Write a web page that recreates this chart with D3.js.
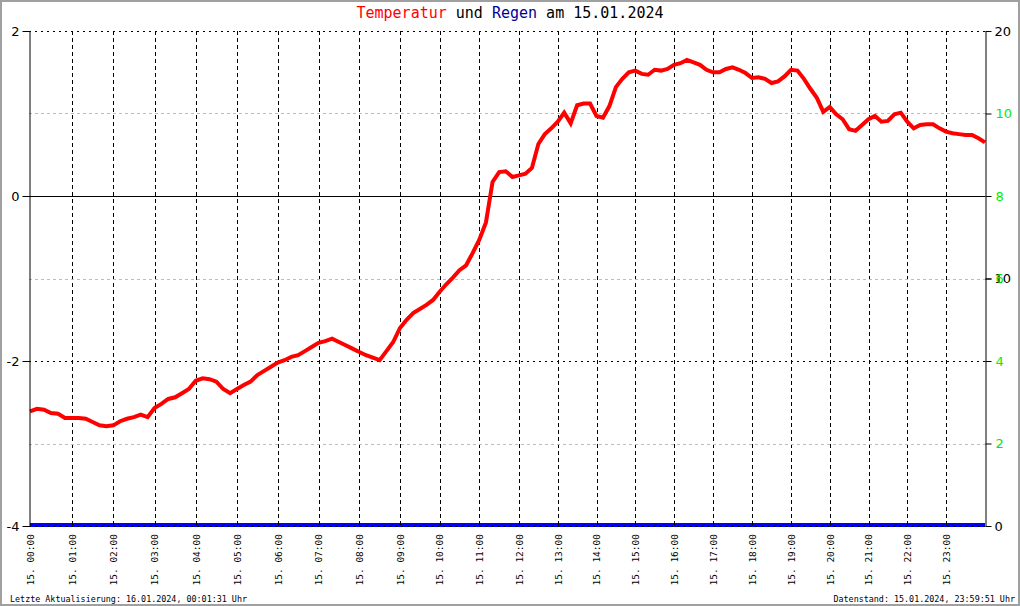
<!DOCTYPE html>
<html>
<head>
<meta charset="utf-8">
<script src="https://cdn.jsdelivr.net/npm/d3@7"></script>
<style>
  body { margin: 0; background: #fff; }
  .mono { font-family: "DejaVu Sans Mono", monospace; }
</style>
</head>
<body>
<div id="chart"></div>
<script>
// Temperatur in 10-Minuten-Schritten ab 00:00 (letzter Wert = 23:59:51)
var temps = [
  -2.61, -2.58, -2.59, -2.63, -2.64, -2.69,
  -2.69, -2.69, -2.70, -2.74, -2.78, -2.79,
  -2.78, -2.73, -2.70, -2.68, -2.65, -2.68,
  -2.57, -2.52, -2.46, -2.44, -2.39, -2.34,
  -2.24, -2.21, -2.22, -2.25, -2.34, -2.39,
  -2.34, -2.29, -2.25, -2.17, -2.12, -2.07,
  -2.02, -1.99, -1.95, -1.93, -1.88, -1.83,
  -1.78, -1.76, -1.73, -1.77, -1.81, -1.85,
  -1.89, -1.93, -1.96, -1.99, -1.88, -1.77,
  -1.60, -1.50, -1.42, -1.37, -1.32, -1.26,
  -1.16, -1.07, -0.99, -0.90, -0.84, -0.69,
  -0.53, -0.32, 0.17, 0.29, 0.30, 0.23,
  0.25, 0.27, 0.34, 0.63, 0.75, 0.82,
  0.90, 1.01, 0.88, 1.10, 1.12, 1.12,
  0.97, 0.95, 1.09, 1.32, 1.42, 1.50,
  1.52, 1.48, 1.47, 1.53, 1.52, 1.54,
  1.59, 1.61, 1.65, 1.62, 1.59, 1.53,
  1.50, 1.50, 1.54, 1.56, 1.53, 1.49,
  1.43, 1.44, 1.42, 1.37, 1.39, 1.45,
  1.53, 1.52, 1.42, 1.30, 1.19, 1.02,
  1.08, 0.99, 0.93, 0.81, 0.79, 0.86,
  0.93, 0.97, 0.90, 0.91, 0.99, 1.01,
  0.90, 0.82, 0.86, 0.87, 0.87, 0.82,
  0.78, 0.76, 0.75, 0.74, 0.74, 0.70,
  0.65
];
var stepMinutes = 10;

// Regen (mm), stuendlich
var rain = [0, 0, 0, 0, 0, 0, 0, 0, 0, 0, 0, 0, 0, 0, 0, 0, 0, 0, 0, 0, 0, 0, 0, 0, 0];

var hours = d3.range(0, 24);
var tempTicks = [-4, -2, 0, 2];
var rainTicks = [0, 10, 20];
var greenTicks = [2, 4, 6, 8, 10];
var greyLines = [-3, -1, 1];
var dottedLines = [-4, -2, 2];

var width = 1020;
var height = 606;
var plotTop = 31, plotBottom = 526, plotLeft = 29, plotRight = 985;

var svg = d3.select("#chart")
  .append("svg")
  .attr("width", width)
  .attr("height", height);

svg.append("rect")
  .attr("x", 1).attr("y", 1)
  .attr("width", width - 2).attr("height", height - 2)
  .attr("fill", "#fff")
  .attr("stroke", "#a0a0a0")
  .attr("stroke-width", 2);

// x-Achse: Stuetzstellen, da die Stunden im Original nicht ganz gleichmaessig liegen
var x = d3.scaleLinear()
  .domain([0, 1, 5, 9, 12, 16, 19, 23, 24])
  .range([30, 72, 237, 400, 519, 674, 791, 946, plotRight]);

var y = d3.scaleLinear().domain([-4, 2]).range([plotBottom, plotTop]);
var yRain = d3.scaleLinear().domain([0, 20]).range([plotBottom, plotTop]);
var yGreen = d3.scaleLinear().domain([0, 12]).range([plotBottom, plotTop]);

// Regen zuerst, Raster darueber
svg.append("path")
  .datum(rain)
  .attr("fill", "none")
  .attr("stroke", "#0000ff")
  .attr("stroke-width", 4)
  .attr("d", d3.line()
    .x(function(d, i) { return i === rain.length - 1 ? x(24) : x(i); })
    .y(function(d) { return yRain(d) - 1; }));

var grid = svg.append("g");

grid.selectAll("line.h")
  .data(hours.slice(1))
  .enter().append("line")
  .attr("x1", function(d) { return Math.round(x(d)) + 0.5; })
  .attr("x2", function(d) { return Math.round(x(d)) + 0.5; })
  .attr("y1", plotTop)
  .attr("y2", plotBottom)
  .attr("stroke", "#000")
  .attr("stroke-dasharray", "4,3");

grid.selectAll("line.g")
  .data(greyLines)
  .enter().append("line")
  .attr("x1", plotLeft).attr("x2", plotRight)
  .attr("y1", function(d) { return Math.round(y(d)) + 0.5; })
  .attr("y2", function(d) { return Math.round(y(d)) + 0.5; })
  .attr("stroke", "#bdbdbd")
  .attr("stroke-dasharray", "3,3");

grid.selectAll("line.d")
  .data(dottedLines)
  .enter().append("line")
  .attr("x1", plotLeft).attr("x2", plotRight)
  .attr("y1", function(d) { return Math.round(y(d)) + 0.5; })
  .attr("y2", function(d) { return Math.round(y(d)) + 0.5; })
  .attr("stroke", "#000")
  .attr("stroke-dasharray", "2,4");

grid.append("line")
  .attr("x1", plotLeft).attr("x2", plotRight)
  .attr("y1", Math.round(y(0)) + 0.5)
  .attr("y2", Math.round(y(0)) + 0.5)
  .attr("stroke", "#000");

// Temperatur
svg.append("path")
  .datum(temps)
  .attr("fill", "none")
  .attr("stroke", "#ff0000")
  .attr("stroke-width", 4)
  .attr("stroke-linejoin", "miter")
  .attr("d", d3.line()
    .x(function(d, i) { return x(i * stepMinutes / 60); })
    .y(function(d) { return y(d); }));

// Achsen
var axisL = svg.append("g")
  .attr("transform", "translate(" + (plotLeft + 0.5) + ",0)")
  .call(d3.axisLeft(y).tickValues(tempTicks).tickSize(7).tickSizeOuter(0).tickPadding(3)
    .tickFormat(function(d) { return d < 0 ? "-" + Math.abs(d) : d; }));

var axisR = svg.append("g")
  .attr("transform", "translate(" + (plotRight + 0.5) + ",0)")
  .call(d3.axisRight(yRain).tickValues(rainTicks).tickSize(6).tickSizeOuter(0).tickPadding(3));

var axisG = svg.append("g")
  .attr("transform", "translate(" + (plotRight + 0.5) + ",0)")
  .call(d3.axisRight(yGreen).tickValues(greenTicks).tickSize(6).tickPadding(4));
axisG.select(".domain").remove();
axisG.selectAll("text").attr("fill", "#00ee00");

[axisL, axisR, axisG].forEach(function(a) {
  a.selectAll("text")
    .style("font-family", "'DejaVu Sans', sans-serif")
    .style("font-size", "13px");
  a.selectAll("line, path").attr("stroke", "#000");
});

var axisB = svg.append("g")
  .attr("transform", "translate(0," + plotBottom + ")")
  .call(d3.axisBottom(x).tickValues(hours).tickSize(0)
    .tickFormat(function(d) { return "15. " + d3.format("02")(d) + ":00"; }));
axisB.select(".domain").remove();
axisB.selectAll("text")
  .attr("class", "mono")
  .style("font-size", "9.5px")
  .attr("transform", "rotate(-90)")
  .attr("x", -8)
  .attr("y", 0)
  .attr("dy", "0.35em")
  .style("text-anchor", "end");

// Titel
var title = svg.append("text")
  .attr("class", "mono")
  .attr("x", 510)
  .attr("y", 18)
  .attr("text-anchor", "middle")
  .style("font-size", "15px");
title.append("tspan").attr("fill", "#ff0000").text("Temperatur");
title.append("tspan").attr("fill", "#000").text(" und ");
title.append("tspan").attr("fill", "#000099").text("Regen");
title.append("tspan").attr("fill", "#000").text(" am 15.01.2024");

// Fusszeilen
svg.append("text")
  .attr("class", "mono")
  .attr("x", 10)
  .attr("y", 602)
  .style("font-size", "8.4px")
  .text("Letzte Aktualisierung: 16.01.2024, 00:01:31 Uhr");

svg.append("text")
  .attr("class", "mono")
  .attr("x", 1015)
  .attr("y", 602)
  .attr("text-anchor", "end")
  .style("font-size", "8.4px")
  .text("Datenstand: 15.01.2024, 23:59:51 Uhr");
</script>
</body>
</html>
